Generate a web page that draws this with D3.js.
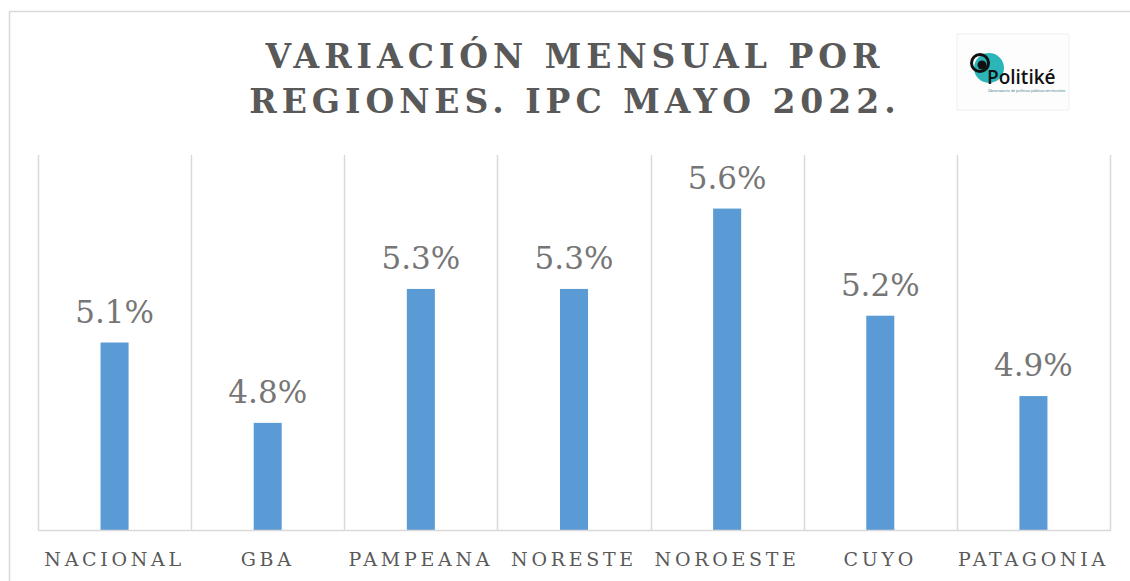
<!DOCTYPE html>
<html><head><meta charset="utf-8">
<script src="https://cdn.jsdelivr.net/npm/d3@7/dist/d3.min.js"></script>
<style>
html,body{margin:0;padding:0;background:#fff;}
svg{display:block;}
</style></head>
<body><svg id="c" width="1130" height="581"></svg>
<script>
const categories = ["NACIONAL","GBA","PAMPEANA","NORESTE","NOROESTE","CUYO","PATAGONIA"];
const values = [5.1, 4.8, 5.3, 5.3, 5.6, 5.2, 4.9];
const titleLines = ["VARIACIÓN MENSUAL POR","REGIONES. IPC MAYO 2022."];
const yDomain = [4.4, 5.8];

const svg = d3.select("#c");
const serif = "'DejaVu Serif', serif";

// outer border
svg.append("path").attr("d","M9.5,581 V11.5 H1130").attr("fill","none").attr("stroke","#d9d9d9").attr("stroke-width",1.5);

const x = d3.scaleBand().domain(categories).range([38,1110]).paddingInner(0.817).paddingOuter(0.4085);
const y = d3.scaleLinear().domain(yDomain).range([530,155]);
const step = x.step();

// gridlines (category separators)
const edges = d3.range(categories.length+1).map(i => 38 + i*step);
svg.append("g").selectAll("line").data(edges).join("line")
  .attr("x1",d=>Math.round(d)+0.5).attr("x2",d=>Math.round(d)+0.5)
  .attr("y1",y(yDomain[1])).attr("y2",y(yDomain[0]))
  .attr("stroke","#d9d9d9").attr("stroke-width",1.5);

// bars
svg.append("g").selectAll("rect").data(values).join("rect")
  .attr("x",(d,i)=>x(categories[i])).attr("width",x.bandwidth())
  .attr("y",d=>y(d)).attr("height",d=>y(yDomain[0])-y(d))
  .attr("fill","#5b9bd5");

// axis baseline
const xAxis = d3.axisBottom(x).tickSize(0).tickPadding(0);
const ax = svg.append("g").attr("transform",`translate(0,${y(yDomain[0])})`).call(xAxis);
ax.select(".domain").attr("stroke","#d9d9d9").attr("stroke-width",1.5).attr("d",`M38,0.5H1111`);
ax.selectAll(".tick text").attr("y",36).attr("dy",0)
  .attr("font-family",serif).attr("font-size",19).attr("letter-spacing",3.7)
  .attr("fill","#595959");

// value labels
svg.append("g").selectAll("text").data(values).join("text")
  .attr("x",(d,i)=>x(categories[i])+x.bandwidth()/2)
  .attr("y",d=>y(d)-20)
  .attr("text-anchor","middle")
  .attr("font-family",serif).attr("font-size",31)
  .attr("fill","#767676")
  .text(d=>d3.format(".1f")(d)+"%");

// title
svg.append("g").selectAll("text").data(titleLines).join("text")
  .attr("x",575).attr("y",(d,i)=>68+i*45)
  .attr("text-anchor","middle")
  .attr("font-family",serif).attr("font-weight","bold").attr("font-size",33)
  .attr("letter-spacing",5)
  .attr("fill","#595959")
  .text(d=>d);

// logo
const lg = svg.append("g");
lg.append("rect").attr("x",957).attr("y",34).attr("width",112).attr("height",76).attr("fill","#fdfdfd").attr("stroke","#f0f0f0");
lg.append("circle").attr("cx",989).attr("cy",68).attr("r",15).attr("fill","#2bb5b8");
lg.append("circle").attr("cx",980).attr("cy",63).attr("r",8.5).attr("fill","none").attr("stroke","#111").attr("stroke-width",3);
lg.append("circle").attr("cx",982).attr("cy",65).attr("r",4.5).attr("fill","#111");
lg.append("text").attr("x",987).attr("y",84).attr("font-family","'Open Sans',sans-serif").attr("font-weight","600").attr("font-size",19).attr("fill","#111").text("Politiké");
lg.append("text").attr("x",988).attr("y",92).attr("font-family","'Open Sans',sans-serif").attr("font-size",3.6).attr("fill","#2a6f80").text("Observatorio de políticas públicas territoriales");
</script></body></html>
